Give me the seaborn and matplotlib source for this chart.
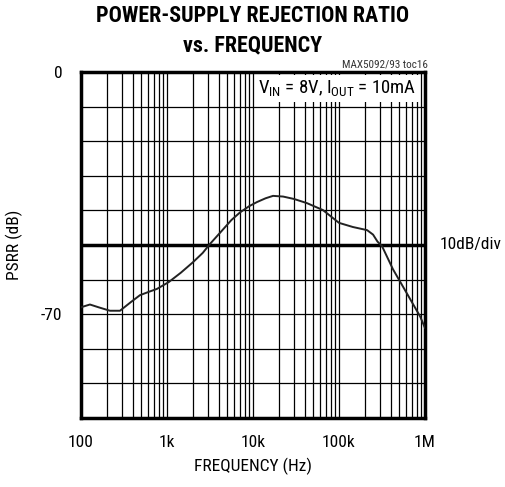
import matplotlib
matplotlib.use("Agg")
import matplotlib.pyplot as plt
import seaborn as sns
import numpy as np
import pandas as pd
from matplotlib.ticker import LogLocator, NullFormatter, FixedLocator

freq_hz = [100, 127, 160, 217, 284, 380, 485, 620, 763, 1050, 1450, 2000, 2600, 3160,
           4300, 5600, 7050, 9000, 11100, 14000, 17100, 22400, 30000, 42400, 65000,
           100000, 145000, 212000, 249000, 280000, 316000, 424000, 616000, 880000, 1000000]
psrr_db = [-68.0, -67.2, -68.0, -69.0, -69.0, -66.5, -64.5, -63.5, -62.7, -60.7, -58.0,
           -55.0, -52.3, -49.7, -46.0, -42.8, -40.6, -38.8, -37.6, -36.5, -35.8, -36.0,
           -36.7, -37.9, -39.9, -43.6, -44.8, -45.7, -47.0, -49.0, -50.3, -57.0, -64.0,
           -70.7, -74.0]

xtick_vals = [100, 1000, 10000, 100000, 1000000]
xtick_labels = ["100", "1k", "10k", "100k", "1M"]
ytick_vals = [0, -70]
ytick_labels = ["0", "-70"]

sns.set_style("white")
cond = ["Roboto Condensed", "DejaVu Sans"]
plt.rcParams['font.family'] = cond
plt.rcParams['text.color'] = "black"

df = pd.DataFrame({"freq": freq_hz, "psrr": psrr_db})

fig = plt.figure(figsize=(5.06, 4.87), dpi=100)
ax = fig.add_axes([81/506, 69/487, 344/506, 346/487])

sns.lineplot(data=df, x="freq", y="psrr", ax=ax, color="#222222", linewidth=1.4, zorder=5)

ax.set_xscale("log")
ax.set_xlim(100, 1e6)
ax.set_ylim(-100, 0)

ax.xaxis.set_minor_locator(LogLocator(base=10, subs=np.arange(2, 10)))
ax.xaxis.set_minor_formatter(NullFormatter())
ax.xaxis.set_major_locator(FixedLocator(xtick_vals))
ax.set_xticklabels(xtick_labels)
ax.yaxis.set_major_locator(FixedLocator(ytick_vals))
ax.set_yticklabels(ytick_labels)
ax.yaxis.set_minor_locator(FixedLocator(list(range(-100, 1, 10))))
ax.grid(True, which="both", axis="x", color="black", linewidth=0.9)
ax.grid(True, which="both", axis="y", color="black", linewidth=0.9)
ax.axhline(-50, color="black", linewidth=2.5, zorder=4)

ax.tick_params(axis="both", which="both", length=0, labelsize=12.5, colors="black")
ax.tick_params(axis="x", pad=12)
ax.tick_params(axis="y", pad=13.5)

for s in ax.spines.values():
    s.set_visible(True)
    s.set_color("black")
    s.set_linewidth(2.5)

ax.set_xlabel("FREQUENCY (Hz)", fontsize=12.5, labelpad=6, color="black")
ax.set_ylabel("PSRR (dB)", fontsize=12.5, color="black")
ax.yaxis.set_label_coords(-0.168, 0.5)

fig.text(0.5, 1 - 16/487, "POWER-SUPPLY REJECTION RATIO", ha="center", va="center",
         fontsize=15.8, fontweight="bold", family=cond)
fig.text(0.5, 1 - 45/487, "vs. FREQUENCY", ha="center", va="center",
         fontsize=15.8, fontweight="bold", family=cond)
fig.text(428/506, 1 - 64/487, "MAX5092/93 toc16", ha="right", va="center",
         fontsize=8, color="#333333")

ax.text(0.975, 0.952, r"V$_{\mathregular{IN}}$ = 8V, I$_{\mathregular{OUT}}$ = 10mA",
        transform=ax.transAxes, ha="right", va="center", fontsize=13.5, zorder=6,
        bbox=dict(facecolor="white", edgecolor="none", pad=2.5))
ax.text(1.043, 0.5, "10dB/div", transform=ax.transAxes, ha="left", va="center", fontsize=12.5)

fig.savefig("out.png", dpi=100)
